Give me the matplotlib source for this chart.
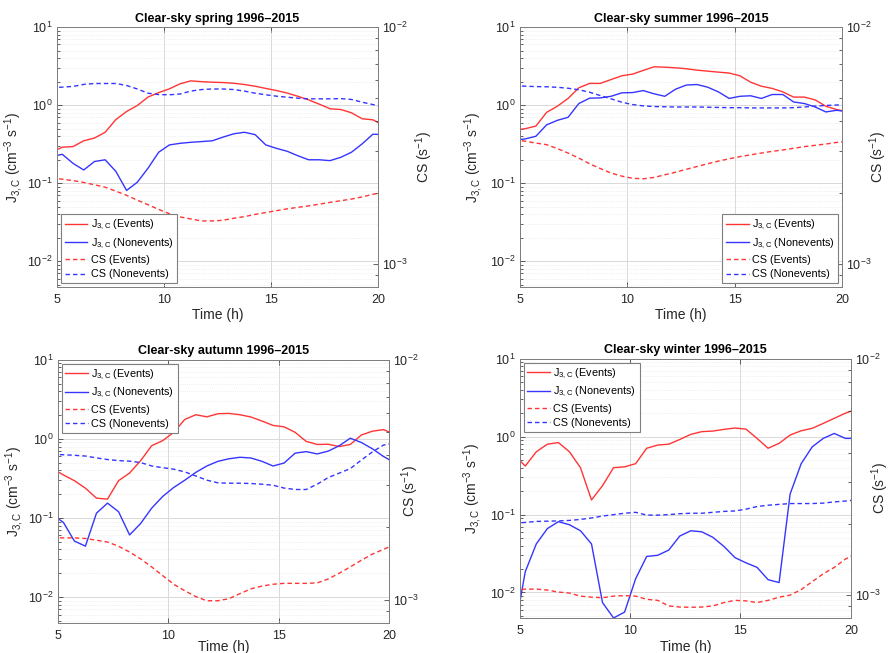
import numpy as np
import matplotlib
matplotlib.use("Agg")
import matplotlib.pyplot as plt
from matplotlib.ticker import LogLocator, NullFormatter

plt.rcParams['font.family'] = ['Liberation Sans', 'DejaVu Sans']
plt.rcParams['mathtext.fontset'] = 'custom'
plt.rcParams['mathtext.rm'] = 'Liberation Sans'
plt.rcParams['mathtext.it'] = 'Liberation Sans'

# half-hour bin centres (h)
time_h = np.arange(4.75, 20.26, 0.5)

seasons = ["spring", "summer", "autumn", "winter"]

# ---- Spring ----
spr_j_ev = [0.25, 0.29, 0.295, 0.35, 0.38, 0.45, 0.655, 0.83, 0.99, 1.27,
            1.45, 1.62, 1.88, 2.05, 2.0, 1.97, 1.95, 1.91, 1.84, 1.75,
            1.64, 1.54, 1.43, 1.30, 1.17, 1.03, 0.90, 0.88, 0.80, 0.67,
            0.65, 0.55]
spr_j_ne = [0.22, 0.235, 0.18, 0.148, 0.19, 0.2, 0.142, 0.081, 0.103, 0.156,
            0.25, 0.31, 0.325, 0.335, 0.342, 0.35, 0.39, 0.43, 0.45, 0.42,
            0.31, 0.28, 0.257, 0.225, 0.2, 0.2, 0.195, 0.215, 0.25, 0.32,
            0.425, 0.42]
spr_cs_ev = [2.31, 2.28, 2.25, 2.21, 2.16, 2.11, 2.03, 1.95, 1.86, 1.78,
             1.70, 1.63, 1.58, 1.55, 1.52, 1.52, 1.53, 1.56, 1.585, 1.62,
             1.65, 1.68, 1.71, 1.735, 1.76, 1.79, 1.82, 1.85, 1.88, 1.92,
             1.97, 2.01]
spr_cs_ne = [5.55, 5.58, 5.62, 5.73, 5.78, 5.78, 5.78, 5.67, 5.48, 5.26,
             5.19, 5.18, 5.22, 5.37, 5.45, 5.48, 5.48, 5.45, 5.37, 5.26,
             5.18, 5.11, 5.06, 5.01, 4.98, 4.98, 4.98, 4.99, 4.95, 4.82,
             4.71, 4.60]

# ---- Summer ----
sum_j_ev = [0.48, 0.50, 0.54, 0.81, 0.97, 1.22, 1.67, 1.90, 1.90, 2.13,
            2.38, 2.5, 2.79, 3.1, 3.07, 3.01, 2.93, 2.81, 2.73, 2.65,
            2.58, 2.38, 1.97, 1.75, 1.64, 1.48, 1.27, 1.27, 1.17, 0.97,
            0.88, 0.82]
sum_j_ne = [0.355, 0.37, 0.40, 0.56, 0.64, 0.70, 1.05, 1.23, 1.24, 1.30,
            1.44, 1.45, 1.54, 1.40, 1.30, 1.60, 1.81, 1.84, 1.70, 1.48,
            1.22, 1.30, 1.32, 1.22, 1.37, 1.37, 1.10, 1.05, 0.95, 0.82,
            0.86, 0.83]
sum_cs_ev = [3.34, 3.30, 3.24, 3.19, 3.07, 2.94, 2.80, 2.65, 2.53, 2.42,
             2.35, 2.30, 2.29, 2.32, 2.38, 2.44, 2.51, 2.58, 2.65, 2.72,
             2.78, 2.84, 2.89, 2.94, 2.99, 3.03, 3.08, 3.13, 3.17, 3.21,
             3.26, 3.30]
sum_cs_ne = [5.65, 5.63, 5.61, 5.60, 5.57, 5.52, 5.44, 5.31, 5.14, 4.98,
             4.82, 4.71, 4.65, 4.62, 4.61, 4.60, 4.60, 4.60, 4.59, 4.58,
             4.57, 4.57, 4.56, 4.56, 4.56, 4.56, 4.57, 4.60, 4.64, 4.67,
             4.69, 4.70]

# ---- Autumn ----
aut_j_ev = [0.42, 0.35, 0.296, 0.238, 0.178, 0.173, 0.296, 0.37, 0.53, 0.82,
            0.95, 1.21, 1.76, 2.02, 1.90, 2.08, 2.10, 2.02, 1.89, 1.68,
            1.48, 1.42, 1.21, 0.93, 0.85, 0.855, 0.80, 0.85, 1.12, 1.25,
            1.31, 1.15]
aut_j_ne = [0.11, 0.088, 0.051, 0.044, 0.115, 0.154, 0.12, 0.061, 0.085, 0.133,
            0.187, 0.243, 0.30, 0.377, 0.454, 0.52, 0.56, 0.585, 0.573, 0.52,
            0.454, 0.495, 0.66, 0.69, 0.645, 0.70, 0.82, 1.02, 0.90, 0.75,
            0.60, 0.50]
aut_cs_ev = [1.81, 1.81, 1.81, 1.80, 1.77, 1.74, 1.67, 1.58, 1.48, 1.37,
             1.26, 1.16, 1.09, 1.03, 0.99, 0.99, 1.01, 1.06, 1.11, 1.14,
             1.16, 1.17, 1.17, 1.17, 1.175, 1.22, 1.29, 1.37, 1.46, 1.55,
             1.62, 1.70]
aut_cs_ne = [4.03, 4.02, 4.00, 3.97, 3.90, 3.84, 3.80, 3.78, 3.73, 3.61,
             3.55, 3.50, 3.41, 3.28, 3.15, 3.07, 3.06, 3.06, 3.05, 3.03,
             3.00, 2.92, 2.88, 2.88, 3.03, 3.23, 3.37, 3.52, 3.82, 4.13,
             4.41, 4.50]

# ---- Winter ----
win_j_ev = [0.58, 0.42, 0.64, 0.80, 0.84, 0.64, 0.40, 0.154, 0.235, 0.40,
            0.41, 0.45, 0.71, 0.78, 0.80, 0.92, 1.07, 1.16, 1.18, 1.24,
            1.29, 1.25, 0.95, 0.71, 0.82, 1.05, 1.19, 1.28, 1.48, 1.72,
            2.0, 2.25]
win_j_ne = [0.003, 0.0185, 0.042, 0.066, 0.081, 0.074, 0.062, 0.042, 0.0074, 0.0047,
            0.0056, 0.015, 0.029, 0.030, 0.035, 0.053, 0.062, 0.060, 0.051, 0.039,
            0.028, 0.024, 0.021, 0.0146, 0.0134, 0.184, 0.45, 0.74, 0.95, 1.10,
            0.95, 0.95]
win_cs_ev = [1.05, 1.06, 1.06, 1.05, 1.03, 1.02, 0.99, 0.98, 0.975, 0.99,
             0.995, 0.99, 0.96, 0.95, 0.90, 0.89, 0.888, 0.89, 0.90, 0.93,
             0.95, 0.945, 0.93, 0.95, 0.98, 1.00, 1.055, 1.14, 1.23, 1.31,
             1.42, 1.50]
win_cs_ne = [2.01, 2.03, 2.05, 2.055, 2.06, 2.07, 2.09, 2.12, 2.16, 2.19,
             2.22, 2.24, 2.18, 2.18, 2.19, 2.21, 2.22, 2.22, 2.24, 2.26,
             2.27, 2.31, 2.37, 2.40, 2.42, 2.44, 2.44, 2.44, 2.45, 2.48,
             2.50, 2.53]

j_events = [spr_j_ev, sum_j_ev, aut_j_ev, win_j_ev]
j_nonevents = [spr_j_ne, sum_j_ne, aut_j_ne, win_j_ne]
cs_events_milli = [spr_cs_ev, sum_cs_ev, aut_cs_ev, win_cs_ev]      # 1e-3 s^-1
cs_nonevents_milli = [spr_cs_ne, sum_cs_ne, aut_cs_ne, win_cs_ne]

legend_labels = [r'$\mathregular{J_{3,C}}$ (Events)',
                 r'$\mathregular{J_{3,C}}$ (Nonevents)',
                 'CS (Events)', 'CS (Nonevents)']
legend_locs = ['lower left', 'lower right', 'upper left', 'upper left']

# axes rectangles (fig fraction)
rects = [
    [0.064, 0.5605, 0.361, 0.398],
    [0.584, 0.5605, 0.362, 0.398],
    [0.065, 0.046, 0.372, 0.403],
    [0.584, 0.0536, 0.372, 0.397],
]
left_label_x = [-0.10, -0.109, -0.097, -0.109]
right_label_x = [1.109, 1.078, 1.033, 1.057]
xlabel_y = [-0.081, -0.081, -0.065, -0.085]

RED = '#ff3535'
BLUE = '#3535ff'
AX_COL = '#262626'
FS = 9.0

fig = plt.figure(figsize=(8.9, 6.53), dpi=100)
for i, s in enumerate(seasons):
    ax = fig.add_axes(rects[i])
    ax2 = ax.twinx()
    ax.set_zorder(1)
    ax2.set_zorder(2)
    ax.patch.set_visible(True)
    ax2.patch.set_visible(False)

    l1, = ax.plot(time_h, j_events[i], color=RED, lw=1.0)
    l2, = ax.plot(time_h, j_nonevents[i], color=BLUE, lw=1.0)
    l3, = ax2.plot(time_h, np.array(cs_events_milli[i]) * 1e-3, color=RED,
                   lw=1.0, ls=(0, (3.2, 2.2)))
    l4, = ax2.plot(time_h, np.array(cs_nonevents_milli[i]) * 1e-3, color=BLUE,
                   lw=1.0, ls=(0, (3.2, 2.2)))

    ax.set_yscale('log')
    ax2.set_yscale('log')
    ax.set_xlim(5, 20)
    ax.set_ylim(0.0047, 10)
    ax2.set_ylim(8e-4, 1e-2)
    ax.set_xticks([5, 10, 15, 20])
    ax.yaxis.set_major_locator(LogLocator(base=10, numticks=10))
    ax.yaxis.set_minor_locator(LogLocator(base=10, subs=np.arange(2, 10), numticks=20))
    ax.yaxis.set_minor_formatter(NullFormatter())
    ax2.yaxis.set_major_locator(LogLocator(base=10, numticks=10))
    ax2.yaxis.set_minor_locator(LogLocator(base=10, subs=np.arange(2, 10), numticks=20))
    ax2.yaxis.set_minor_formatter(NullFormatter())

    ax.grid(True, which='major', axis='both', color='#d9d9d9', lw=0.7)
    ax.grid(True, which='minor', axis='y', color='#e3e3e3', lw=0.5, ls=':')
    ax.set_axisbelow(True)

    for a in (ax, ax2):
        for sp in a.spines.values():
            sp.set_color('#7f7f7f')
            sp.set_linewidth(0.7)
        a.tick_params(which='both', direction='in', colors=AX_COL,
                      labelsize=FS, width=0.5)
        a.tick_params(which='major', length=3.5)
        a.tick_params(which='minor', length=2)
    ax.tick_params(axis='x', top=True, pad=5)
    ax.tick_params(axis='y', which='both', right=False, pad=3)
    ax2.tick_params(axis='y', pad=3)

    ax.set_title(f'Clear-sky {s} 1996\u20132015', fontsize=FS,
                 fontweight='bold', color='black', pad=4)
    ax.set_xlabel('Time (h)', fontsize=FS + 1, color=AX_COL)
    ax.xaxis.set_label_coords(0.5, xlabel_y[i])
    ax.set_ylabel(r'$\mathregular{J_{3,C}}$ (cm$^{\mathregular{-3}}$ s$^{\mathregular{-1}}$)',
                  fontsize=FS + 1, color=AX_COL)
    ax.yaxis.set_label_coords(left_label_x[i], 0.5)
    ax2.set_ylabel(r'CS (s$^{\mathregular{-1}}$)', fontsize=FS + 1, color=AX_COL)
    ax2.yaxis.set_label_coords(right_label_x[i], 0.5)

    leg = ax2.legend([l1, l2, l3, l4], legend_labels, loc=legend_locs[i],
                     fontsize=FS - 1.2, frameon=True, fancybox=False,
                     handlelength=2.1, handletextpad=0.3, borderpad=0.35,
                     labelspacing=0.4, borderaxespad=0.35)
    leg.get_frame().set_edgecolor('#7f7f7f')
    leg.get_frame().set_linewidth(0.8)
    leg.get_frame().set_alpha(1)

fig.savefig('out.png', dpi=100)
